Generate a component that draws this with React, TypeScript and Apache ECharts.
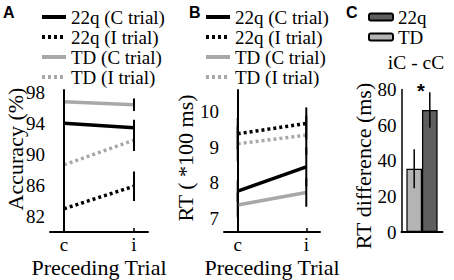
import React, { useEffect, useRef } from "react";
import * as echarts from "echarts";

// ---------- data ----------
const xCats = ["c", "i"];

// Panel A: accuracy (%)
const accTicks = [82, 86, 90, 94, 98];
const acc22qC = [94.0, 93.45];
const acc22qCErr = [0.6, 1.0];
const acc22qI = [83.0, 85.9];
const acc22qIErr = [1.45, 1.9];
const accTDC = [96.8, 96.4];
const accTDCErr = [0.6, 0.8];
const accTDI = [88.65, 91.85];
const accTDIErr = [1.15, 1.4];

// Panel B: RT (*100 ms)
const rtTicks = [7, 8, 9, 10];
const rt22qC = [7.77, 8.45];
const rt22qCErr = [0.3, 0.55];
const rt22qI = [9.38, 9.67];
const rt22qIErr = [0.45, 0.45];
const rtTDC = [7.38, 7.73];
const rtTDCErr = [0.35, 0.4];
const rtTDI = [9.1, 9.34];
const rtTDIErr = [0.5, 0.55];

// Panel C: RT difference (ms), iC - cC
const diffGroups = ["TD", "22q"];
const diffMeans = [35.5, 68.5];
const diffErrs = [11, 10];

const lineNames = ["22q (C trial)", "22q (I trial)", "TD (C trial)", "TD (I trial)"];

const BLACK = "#000000";
const GRAY = "#a8a8a8";
const SERIF = "Liberation Serif";
const SANS = "Liberation Sans";

function lineSeries(name: string, vals: number[], color: string, dotted: boolean, idx: number) {
  return {
    type: "line",
    name,
    xAxisIndex: idx,
    yAxisIndex: idx,
    data: vals.map((v, i) => [i, v]),
    symbol: "none",
    silent: true,
    lineStyle: { color, width: 3.5, type: dotted ? [3, 3] : "solid", cap: "butt" },
    itemStyle: { color },
    z: 2,
  };
}

function errSeries(vals: number[], errs: number[], idx: number) {
  return {
    type: "custom",
    xAxisIndex: idx,
    yAxisIndex: idx,
    silent: true,
    data: vals.map((v, i) => [i, v, errs[i]]),
    renderItem: (_p: any, api: any) => {
      const x = api.value(0);
      const y = api.value(1);
      const e = api.value(2);
      const a = api.coord([x, y - e]);
      const b = api.coord([x, y + e]);
      return {
        type: "line",
        shape: { x1: a[0], y1: a[1], x2: b[0], y2: b[1] },
        style: { stroke: BLACK, lineWidth: 2 },
      };
    },
    z: 3,
  };
}

const BAR_W = 15.6;

function barErrSeries(i: number, side: number) {
  return {
    type: "custom",
    xAxisIndex: 2,
    yAxisIndex: 2,
    silent: true,
    data: [[0, diffMeans[i], diffErrs[i]]],
    renderItem: (_p: any, api: any) => {
      const y = api.value(1);
      const e = api.value(2);
      const a = api.coord([0, y - e]);
      const b = api.coord([0, y + e]);
      const x = a[0] + (side * BAR_W) / 2;
      return {
        type: "line",
        shape: { x1: x, y1: a[1], x2: x, y2: b[1] },
        style: { stroke: BLACK, lineWidth: 1.5 },
      };
    },
    z: 5,
  };
}

function valueXAxis(idx: number) {
  return {
    type: "value",
    gridIndex: idx,
    min: -0.2,
    max: 1.2,
    axisLine: { show: true, lineStyle: { color: BLACK, width: 2 } },
    axisTick: { show: true, inside: true, length: 4, customValues: [0, 1], lineStyle: { color: BLACK, width: 1.5 } },
    axisLabel: {
      customValues: [0, 1],
      formatter: (v: number) => xCats[Math.round(v)] ?? "",
      fontFamily: SERIF,
      fontSize: 19,
      color: BLACK,
      margin: 3,
    },
    splitLine: { show: false },
  };
}

function yAxis(idx: number, min: number, max: number, ticks: number[]) {
  return {
    type: "value",
    gridIndex: idx,
    min,
    max,
    axisLine: { show: true, lineStyle: { color: BLACK, width: 2 } },
    axisTick: { show: false, customValues: ticks },
    axisLabel: { customValues: ticks, fontFamily: SERIF, fontSize: 19, color: BLACK, margin: 5 },
    splitLine: { show: false },
  };
}

function lineLegend(left: number) {
  return {
    data: lineNames,
    orient: "vertical",
    left,
    top: 2,
    itemWidth: 24,
    itemHeight: 14,
    itemGap: 0,
    selectedMode: false,
    itemStyle: { opacity: 0 },
    lineStyle: { width: 4 },
    textStyle: { fontFamily: SERIF, fontSize: 19, color: BLACK, lineHeight: 20 },
  };
}

function txt(text: string, x: number, y: number, size: number, family: string, extra: any = {}) {
  return {
    type: "text",
    x,
    y,
    rotation: extra.rotation ?? 0,
    style: {
      text,
      fontFamily: family,
      fontSize: size,
      fontWeight: extra.bold ? "bold" : undefined,
      fill: BLACK,
      align: extra.align ?? "center",
      verticalAlign: "middle",
    },
  };
}

function buildOption(): any {
  return {
    animation: false,
    backgroundColor: "#ffffff",
    grid: [
      { left: 50, top: 90, width: 98, height: 142 },
      { left: 224, top: 90, width: 96, height: 142 },
      { left: 401.5, top: 89.5, width: 41, height: 142.5 },
    ],
    xAxis: [
      valueXAxis(0),
      valueXAxis(1),
      {
        type: "category",
        gridIndex: 2,
        data: ["iC - cC"],
        axisLine: { show: true, lineStyle: { color: BLACK, width: 2 } },
        axisTick: { show: false },
        axisLabel: { show: false },
      },
    ],
    yAxis: [
      yAxis(0, 80, 98.3, accTicks),
      yAxis(1, 6.62, 10.61, rtTicks),
      {
        type: "value",
        gridIndex: 2,
        min: 0,
        max: 80,
        interval: 20,
        axisLine: { show: true, lineStyle: { color: BLACK, width: 1.5 } },
        axisTick: { show: false },
        axisLabel: { fontFamily: SERIF, fontSize: 19, color: BLACK, margin: 5 },
        splitLine: { show: false },
      },
    ],
    legend: [
      lineLegend(35),
      lineLegend(199),
      {
        data: ["22q", "TD"],
        orient: "vertical",
        left: 363,
        top: 2,
        itemWidth: 24,
        itemHeight: 7,
        itemGap: 0,
        selectedMode: false,
        textStyle: { fontFamily: SERIF, fontSize: 19, color: BLACK, lineHeight: 20 },
      },
    ],
    series: [
      lineSeries(lineNames[0], acc22qC, BLACK, false, 0),
      lineSeries(lineNames[1], acc22qI, BLACK, true, 0),
      lineSeries(lineNames[2], accTDC, GRAY, false, 0),
      lineSeries(lineNames[3], accTDI, GRAY, true, 0),
      errSeries(acc22qC, acc22qCErr, 0),
      errSeries(acc22qI, acc22qIErr, 0),
      errSeries(accTDC, accTDCErr, 0),
      errSeries(accTDI, accTDIErr, 0),
      lineSeries(lineNames[0], rt22qC, BLACK, false, 1),
      lineSeries(lineNames[1], rt22qI, BLACK, true, 1),
      lineSeries(lineNames[2], rtTDC, GRAY, false, 1),
      lineSeries(lineNames[3], rtTDI, GRAY, true, 1),
      errSeries(rt22qC, rt22qCErr, 1),
      errSeries(rt22qI, rt22qIErr, 1),
      errSeries(rtTDC, rtTDCErr, 1),
      errSeries(rtTDI, rtTDIErr, 1),
      {
        type: "bar",
        name: diffGroups[0],
        xAxisIndex: 2,
        yAxisIndex: 2,
        data: [diffMeans[0]],
        barWidth: BAR_W,
        barGap: "0%",
        silent: true,
        itemStyle: { color: "#b4b4b4", borderColor: BLACK, borderWidth: 1.2 },
      },
      {
        type: "bar",
        name: diffGroups[1],
        xAxisIndex: 2,
        yAxisIndex: 2,
        data: [diffMeans[1]],
        barWidth: BAR_W,
        barGap: "0%",
        silent: true,
        itemStyle: { color: "#5f5f5f", borderColor: BLACK, borderWidth: 1.2 },
      },
      barErrSeries(0, -1),
      barErrSeries(1, 1),
    ],
    graphic: [
      txt("A", 3, 12, 16, SANS, { bold: true, align: "left" }),
      txt("B", 189, 12, 16, SANS, { bold: true, align: "left" }),
      txt("C", 346, 12, 16, SANS, { bold: true, align: "left" }),
      txt("Accuracy (%)", 15, 149, 22, SERIF, { rotation: Math.PI / 2 }),
      txt("RT ( *100 ms)", 185, 158, 22, SERIF, { rotation: Math.PI / 2 }),
      txt("RT difference (ms)", 363.5, 166, 22, SERIF, { rotation: Math.PI / 2 }),
      txt("Preceding Trial", 99, 267, 22, SERIF),
      txt("Preceding Trial", 272, 267, 22, SERIF),
      txt("iC - cC", 416, 62, 19.5, SERIF),
      txt("*", 421, 91, 20, SANS, { bold: true }),
    ],
  };
}

export default function App() {
  const ref = useRef<HTMLDivElement>(null);
  useEffect(() => {
    if (!ref.current) return;
    const chart = echarts.init(ref.current, null, { renderer: "svg" });
    chart.setOption(buildOption());
    return () => chart.dispose();
  }, []);
  return (
    <div
      ref={ref}
      style={{ position: "fixed", left: 0, top: 0, width: 454, height: 280, background: "#fff" }}
    />
  );
}
